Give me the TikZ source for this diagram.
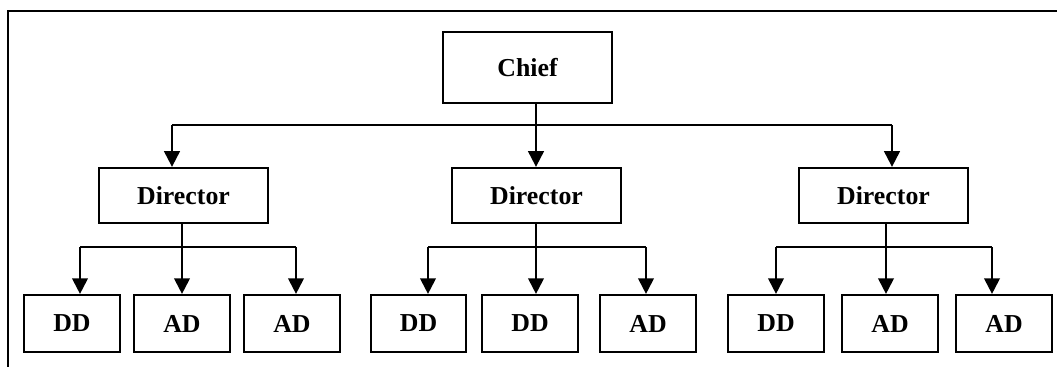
\documentclass[tikz,border=0pt]{standalone}
\usepackage{fontspec}
\setmainfont{Liberation Serif}
\usetikzlibrary{arrows.meta}
\usetikzlibrary{positioning}

\tikzset{
  box/.style={draw, rectangle, line width=1pt, font=\fontsize{12.4}{14}\selectfont\bfseries, inner sep=0pt},
  topbox/.style={box, minimum width=81pt, minimum height=34pt},
  dirbox/.style={box, minimum width=81pt, minimum height=26.5pt},
  subbox/.style={box, minimum width=46pt, minimum height=27.4pt},
  link/.style={line width=1pt},
}

\begin{document}
\begin{tikzpicture}[x=0.48pt,y=-0.48pt,>={Triangle[width=7.5pt,length=7.5pt]}]
    \useasboundingbox (0,0) rectangle (1057,367);
    % outer frame
    \draw[line width=0.9pt] (8,367) -- (8,11) -- (1057,11);

    % top level
    \node[topbox] (chief) at (527.5,67.5) {Chief};

    % directors
    \node[dirbox] (dir1) at (183.5,195.5) {Director};
    \node[dirbox] (dir2) at (536.5,195.5) {Director};
    \node[dirbox] (dir3) at (883.5,195.5) {Director};

    % deputies
    \node[subbox] (dd1) at (72,323.5) {DD};
    \node[subbox] (ad1) at (182,323.5) {AD};
    \node[subbox] (ad2) at (292,323.5) {AD};
    \node[subbox] (dd2) at (418.5,323.5) {DD};
    \node[subbox] (dd3) at (530,323.5) {DD};
    \node[subbox] (ad3) at (648,323.5) {AD};
    \node[subbox] (dd4) at (776,323.5) {DD};
    \node[subbox] (ad4) at (890,323.5) {AD};
    \node[subbox] (ad5) at (1004,323.5) {AD};

    % bus points
    \coordinate (busl) at (172,125);
    \coordinate (busm) at (536,125);
    \coordinate (busr) at (892,125);
    \coordinate (s1a) at (80,247);
    \coordinate (s1b) at (182,247);
    \coordinate (s1c) at (296,247);
    \coordinate (s2a) at (428,247);
    \coordinate (s2b) at (536,247);
    \coordinate (s2c) at (646,247);
    \coordinate (s3a) at (776,247);
    \coordinate (s3b) at (886,247);
    \coordinate (s3c) at (992,247);

    % chief to directors
    \draw[link] (busl) -- (busr);
    \draw[link,->] (chief.south -| busm) -- (busm |- dir2.north);
    \draw[link,->] (busl) -- (busl |- dir1.north);
    \draw[link,->] (busr) -- (busr |- dir3.north);

    % directors to deputies
    \draw[link] (s1a) -- (s1c);
    \draw[link,->] (dir1.south -| s1b) -- (s1b |- ad1.north);
    \draw[link,->] (s1a) -- (s1a |- dd1.north);
    \draw[link,->] (s1c) -- (s1c |- ad2.north);

    \draw[link] (s2a) -- (s2c);
    \draw[link,->] (dir2.south -| s2b) -- (s2b |- dd3.north);
    \draw[link,->] (s2a) -- (s2a |- dd2.north);
    \draw[link,->] (s2c) -- (s2c |- ad3.north);

    \draw[link] (s3a) -- (s3c);
    \draw[link,->] (dir3.south -| s3b) -- (s3b |- ad4.north);
    \draw[link,->] (s3a) -- (s3a |- dd4.north);
    \draw[link,->] (s3c) -- (s3c |- ad5.north);
\end{tikzpicture}
\end{document}
